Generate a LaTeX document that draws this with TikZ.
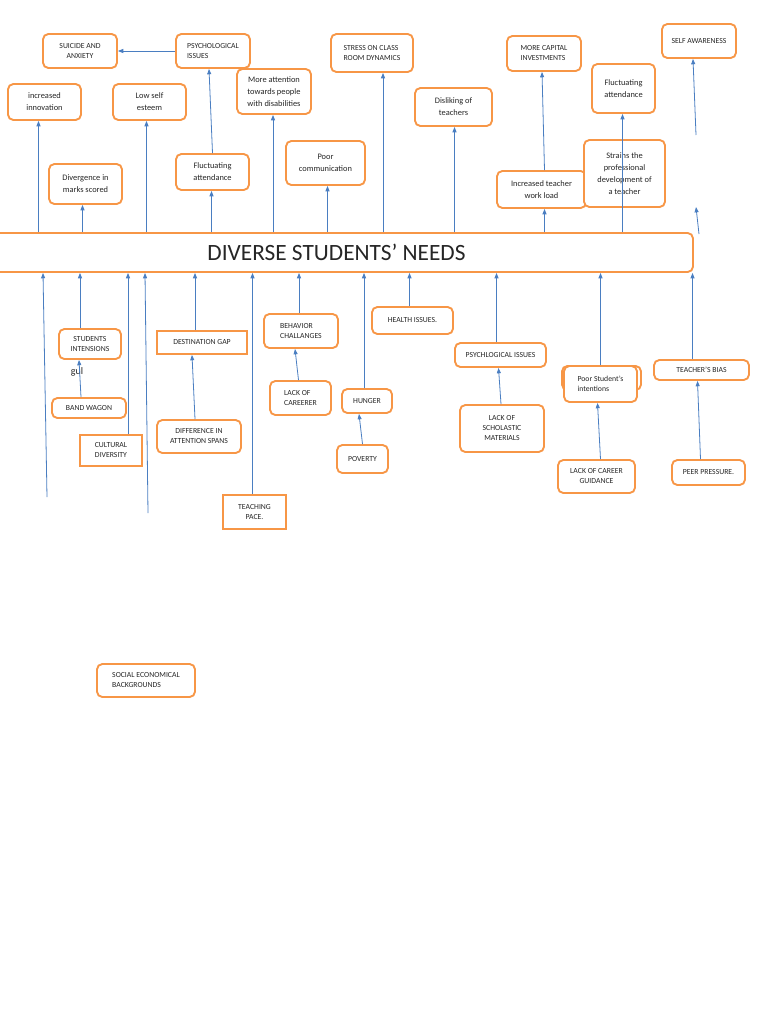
\documentclass[tikz,border=0pt]{standalone}
\usepackage{fontspec}
\setmainfont{Carlito}
\usetikzlibrary{arrows.meta,calc,positioning}

\definecolor{boxorange}{RGB}{247,150,70}
\definecolor{linkblue}{RGB}{74,126,193}
\newcommand{\capsfont}{\fontsize{5.8}{7.5}\selectfont}
\newcommand{\labelfont}{\fontsize{6.3}{9}\selectfont}
\newcommand{\titlefont}{\fontsize{17.5}{19}\selectfont}

\tikzset{
  box/.style 2 args={draw=boxorange, line width=1.4pt, rounded corners=4pt, fill=white,
    minimum width=#1*0.75pt, minimum height=#2*0.75pt, inner sep=1pt,
    align=center, font=\capsfont, text=black!85},
  sqbox/.style 2 args={box={#1}{#2}, sharp corners},
  lbox/.style 2 args={box={#1}{#2}, align=left},
  wbox/.style 2 args={box={#1}{#2}, font=\labelfont},
  arr/.style={draw=linkblue, line width=0.6pt, -{Triangle[length=4pt,width=3pt]}},
}

\begin{document}
\begin{tikzpicture}[x=0.75pt, y=-0.75pt]
  \useasboundingbox (0,0) rectangle (768,1024);

  % Central problem
  \node[box={713}{39}, font=\titlefont] (needs) at (336.5,252.5) {DIVERSE STUDENTS’ NEEDS};

  % Effects (above the central box)
  \node[box={74}{34}] (suicide) at (80,51) {SUICIDE AND\\ANXIETY};
  \node[lbox={74}{34}] (psychtop) at (213,51) {PSYCHOLOGICAL\\ISSUES};
  \node[wbox={73}{36}] (innov) at (44.5,102) {increased\\innovation};
  \node[wbox={73}{36}] (lowself) at (149.5,102) {Low self\\esteem};
  \node[wbox={74}{45}] (moreatt) at (274,91.5) {More attention\\towards people\\with disabilities};
  \node[lbox={82}{38}] (stress) at (372,53) {STRESS ON CLASS\\ROOM DYNAMICS};
  \node[wbox={77}{38}] (dislike) at (453.5,107) {Disliking of\\teachers};
  \node[lbox={74}{35}] (capital) at (544,53.5) {MORE CAPITAL\\INVESTMENTS};
  \node[box={74}{34}] (selfaw) at (699,41) {SELF AWARENESS};
  \node[wbox={63}{49}] (fluctR) at (623.5,88.5) {Fluctuating\\attendance};
  \node[wbox={73}{40}] (diverg) at (85.5,184) {Divergence in\\marks scored};
  \node[wbox={73}{36}] (fluctL) at (212.5,172) {Fluctuating\\attendance};
  \node[wbox={79}{44}] (poorcom) at (325.5,163) {Poor\\communication};
  \node[wbox={89}{37}] (workload) at (541.5,189.5) {Increased teacher\\work load};
  \node[wbox={81}{67}] (strains) at (624.5,173.5) {Strains the\\professional\\development of\\a teacher};

  % Causes (below the central box)
  \node[box={62}{30}] (stint) at (90,344) {STUDENTS\\INTENSIONS};
  \node[font=\fontsize{7.5}{8}\selectfont, text=black!85] (gul) at (77,372) {gul};
  \node[box={74}{20}] (bandw) at (89,408) {BAND WAGON};
  \node[sqbox={62}{31}] (cultdiv) at (111,450.5) {CULTURAL\\DIVERSITY};
  \node[sqbox={90}{23}] (destgap) at (202,342.5) {DESTINATION GAP};
  \node[box={84}{33}] (diffatt) at (199,436.5) {DIFFERENCE IN\\ATTENTION SPANS};
  \node[sqbox={63}{34}] (teachpace) at (254.5,512) {TEACHING\\PACE.};
  \node[lbox={74}{34}] (behav) at (301,331) {BEHAVIOR\\CHALLANGES};
  \node[lbox={61}{34}] (lackcar) at (300.5,398) {LACK OF\\CAREERER};
  \node[lbox={50}{24}] (hunger) at (367,401) {HUNGER};
  \node[box={51}{28}] (poverty) at (362.5,459) {POVERTY};
  \node[box={81}{27}] (health) at (412.5,320.5) {HEALTH ISSUES.};
  \node[box={91}{24}] (psychlow) at (500.5,355) {PSYCHLOGICAL ISSUES};
  \node[box={84}{47}] (scholastic) at (502,428.5) {LACK OF\\SCHOLASTIC\\MATERIALS};
  \node[box={79}{24}] (poorstback) at (601.5,378) {};
  \node[lbox={73}{36}] (poorst) at (600.5,384) {Poor Student’s\\intentions};
  \node[box={77}{33}] (lackcg) at (596.5,476.5) {LACK OF CAREER\\GUIDANCE};
  \node[box={95}{20}] (teachbias) at (701.5,370) {TEACHER’S BIAS};
  \node[box={73}{25}] (peer) at (708.5,472.5) {PEER PRESSURE.};
  \node[lbox={98}{33}] (social) at (146,680.5) {SOCIAL ECONOMICAL\\BACKGROUNDS};

  % Loose line ends
  \coordinate (freeA) at (47,497);
  \coordinate (freeB) at (148,513);
  \coordinate (freeC) at (696,135);
  \coordinate (freeD) at (699,234);
  \coordinate (freeE) at (696,207);

  % Central box to effects
  \foreach \n/\s in {innov/-6, lowself/-3, diverg/-3, fluctL/-1, moreatt/-1,
                     poorcom/2, stress/11, dislike/1, workload/3, fluctR/-1}
    \draw[arr] ($(needs.north -| \n.south)+(\s,0)$) -- ($(\n.south)+(\s,0)$);
  \draw[arr] (fluctL.north) -- ($(psychtop.south)+(-4,0)$);
  \draw[arr] (psychtop.west) -- (suicide.east);
  \draw[arr] ($(workload.north)+(3,0)$) -- ($(capital.south)+(-2,0)$);
  \draw[arr] (freeC) -- ($(selfaw.south)+(-6,0)$);
  \draw[arr] (freeD) -- (freeE);

  % Causes to central box
  \foreach \n/\s in {stint/-10, cultdiv/17, destgap/-7, teachpace/-2, behav/-2,
                     hunger/-3, health/-3, psychlow/-4, poorst/0, teachbias/-9}
    \draw[arr] ($(\n.north)+(\s,0)$) -- ($(needs.south -| \n.north)+(\s,0)$);
  \draw[arr] (freeA) -- ($(needs.south -| freeA)+(-4,0)$);
  \draw[arr] (freeB) -- ($(needs.south -| freeB)+(-3,0)$);
  \draw[arr] ($(bandw.north)+(-8,0)$) -- ($(stint.south)+(-11,0)$);
  \draw[arr] ($(diffatt.north)+(-4,0)$) -- ($(destgap.south)+(-10,0)$);
  \draw[arr] ($(lackcar.north)+(-2,0)$) -- ($(behav.south)+(-6,0)$);
  \draw[arr] (poverty.north) -- ($(hunger.south)+(-8,0)$);
  \draw[arr] ($(scholastic.north)+(-1,0)$) -- ($(psychlow.south)+(-2,0)$);
  \draw[arr] ($(lackcg.north)+(4,0)$) -- ($(poorst.south)+(-3,0)$);
  \draw[arr] ($(peer.north)+(-8,0)$) -- ($(teachbias.south)+(-4,0)$);
\end{tikzpicture}
\end{document}
